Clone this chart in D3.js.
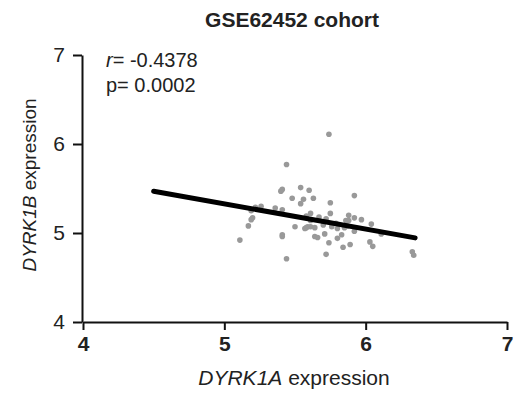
<!DOCTYPE html>
<html>
<head>
<meta charset="utf-8">
<script src="https://cdn.jsdelivr.net/npm/d3@7"></script>
<style>
  body { margin: 0; background: #fff; }
  text { font-family: "Liberation Sans", Arial, sans-serif; fill: #222; }
</style>
</head>
<body>
<script>
// DYRK1A vs DYRK1B expression values
const dyrk1a = [5.74, 5.44, 5.40, 5.41, 5.54, 5.60, 5.48, 5.56, 5.54, 5.63,
  5.92, 5.75, 5.26, 5.22, 5.19, 5.36, 5.41, 5.20, 5.19, 5.17,
  5.11, 5.41, 5.41, 5.44, 5.50, 5.58, 5.59, 5.57, 5.61, 5.58,
  5.67, 5.75, 5.61, 5.70, 5.72, 5.76, 5.79, 5.80, 5.64, 5.66,
  5.71, 5.74, 5.72, 5.80, 5.83, 5.84, 5.89, 5.86, 5.88, 5.88,
  5.92, 5.97, 5.92, 5.85, 5.87, 6.04, 6.03, 6.05, 6.33, 6.34,
  6.11, 5.61, 5.64];
const dyrk1b = [6.11, 5.77, 5.47, 5.49, 5.51, 5.48, 5.39, 5.38, 5.33, 5.39,
  5.42, 5.34, 5.30, 5.29, 5.25, 5.28, 5.26, 5.17, 5.15, 5.08,
  4.92, 4.98, 4.96, 4.71, 5.07, 5.06, 5.07, 5.05, 5.22, 5.19,
  5.18, 5.22, 5.14, 5.09, 5.16, 5.07, 5.11, 5.05, 4.96, 4.95,
  4.99, 4.89, 4.76, 4.94, 4.98, 4.84, 4.87, 5.14, 5.14, 5.20,
  5.17, 5.15, 5.02, 5.06, 5.08, 5.10, 4.90, 4.85, 4.79, 4.75,
  4.99, 5.07, 5.06];
// fitted regression line end points
const fitX = [4.5, 6.35];
const fitY = [5.47, 4.945];
const ticks = [4, 5, 6, 7];
const stats = ["r", "= -0.4378", "p= 0.0002"];

const width = 519, height = 397;
const margin = { top: 55, right: 12, bottom: 75, left: 83 };

const svg = d3.select('body').append('svg')
  .attr('width', width)
  .attr('height', height);

const x = d3.scaleLinear().domain([4, 7]).range([margin.left, width - margin.right]);
const y = d3.scaleLinear().domain([4, 7]).range([height - margin.bottom, margin.top]);

// axes
const xAxis = svg.append('g')
  .attr('transform', `translate(0,${height - margin.bottom})`)
  .call(d3.axisBottom(x).tickValues(ticks).tickFormat(d3.format('d'))
    .tickSize(8).tickSizeOuter(0).tickPadding(6));
xAxis.selectAll('text')
  .style('font-size', '21px')
  .style('font-weight', 'bold')
  .style('font-family', '"Liberation Sans", Arial, sans-serif')
  .attr('fill', '#222');

const yAxis = svg.append('g')
  .attr('transform', `translate(${margin.left - 1},0)`)
  .call(d3.axisLeft(y).tickValues(ticks).tickFormat(d3.format('d'))
    .tickSize(9).tickSizeOuter(0).tickPadding(8));
yAxis.selectAll('text')
  .style('font-size', '21px')
  .style('font-family', '"Liberation Sans", Arial, sans-serif')
  .attr('fill', '#222');

svg.selectAll('.domain, .tick line')
  .attr('stroke', '#111')
  .attr('stroke-width', 2);

// points
svg.append('g')
  .selectAll('circle')
  .data(dyrk1a.map((d, i) => [d, dyrk1b[i]]))
  .enter().append('circle')
  .attr('cx', d => x(d[0]))
  .attr('cy', d => y(d[1]))
  .attr('r', 2.8)
  .attr('fill', '#999');

// regression line
svg.append('line')
  .attr('x1', x(fitX[0]))
  .attr('y1', y(fitY[0]))
  .attr('x2', x(fitX[1]))
  .attr('y2', y(fitY[1]))
  .attr('stroke', '#000')
  .attr('stroke-width', 5)
  .attr('stroke-linecap', 'round');

// title
svg.append('text')
  .attr('x', 292)
  .attr('y', 27)
  .attr('text-anchor', 'middle')
  .style('font-size', '21px')
  .style('font-weight', 'bold')
  .text('GSE62452 cohort');

// stats
const r = svg.append('text')
  .attr('x', 106)
  .attr('y', 67)
  .style('font-size', '20px');
r.append('tspan').style('font-style', 'italic').text(stats[0]);
r.append('tspan').text(stats[1]);
svg.append('text')
  .attr('x', 106)
  .attr('y', 92)
  .style('font-size', '20px')
  .text(stats[2]);

// axis titles
const xl = svg.append('text')
  .attr('x', 294)
  .attr('y', 385)
  .attr('text-anchor', 'middle')
  .style('font-size', '21px');
xl.append('tspan').style('font-style', 'italic').text('DYRK1A');
xl.append('tspan').text(' expression');

const yl = svg.append('text')
  .attr('transform', 'translate(36,185) rotate(-90)')
  .attr('text-anchor', 'middle')
  .style('font-size', '19px');
yl.append('tspan').style('font-style', 'italic').text('DYRK1B');
yl.append('tspan').text(' expression');
</script>
</body>
</html>
